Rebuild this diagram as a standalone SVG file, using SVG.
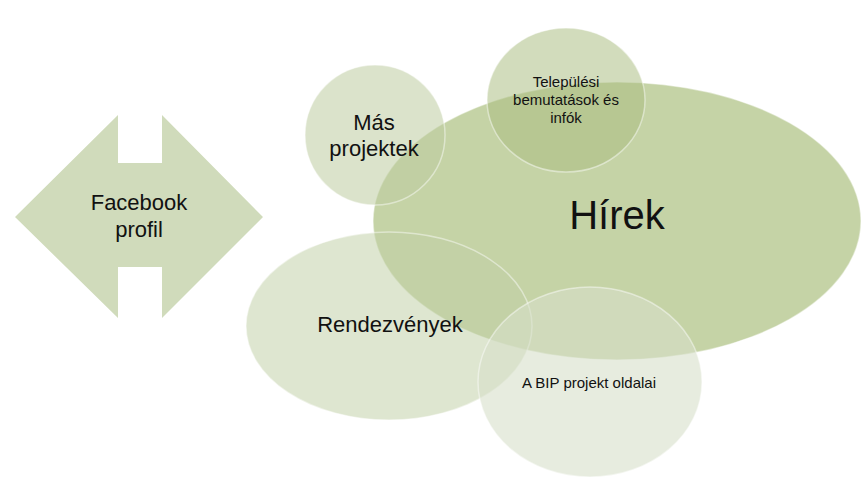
<svg xmlns="http://www.w3.org/2000/svg" width="865" height="486" viewBox="0 0 865 486">
<style>
.bub{stroke:#ffffff;stroke-opacity:0.45;stroke-width:1.5}
.t{font-family:"Liberation Sans",Arial,sans-serif;fill:#111;text-anchor:middle}
.big{font-size:22px}
.sm{font-size:15px}
</style>
<rect width="865" height="486" fill="#ffffff"/>
<g id="facebook">
<path d="M15,217 L118,115 L118,163 L162,163 L162,115 L263,217 L162,318 L162,267 L118,267 L118,318 Z" fill="#D0DBBB"/>
<text class="t big" x="139" y="210">Facebook</text>
<text class="t big" x="139" y="237">profil</text>
</g>
<g id="hirek">
<ellipse class="bub" cx="617" cy="221" rx="244" ry="139" fill="#C5D3A6"/>
<text class="t" x="617" y="229" font-size="40">Hírek</text>
</g>
<g id="mas">
<circle class="bub" cx="375" cy="135" r="70" fill="#BDCCA0" fill-opacity="0.55"/>
<text class="t big" x="374" y="130">Más</text>
<text class="t big" x="374" y="156">projektek</text>
</g>
<g id="rendezvenyek">
<ellipse class="bub" cx="389" cy="326" rx="143" ry="94" fill="#C1D0A6" fill-opacity="0.53"/>
<text class="t big" x="390" y="332">Rendezvények</text>
</g>
<g id="telepulesi">
<ellipse class="bub" cx="566" cy="100" rx="79" ry="72" fill="#AABD80" fill-opacity="0.53"/>
<text class="t sm" x="566" y="87">Települési</text>
<text class="t sm" x="566" y="105">bemutatások és</text>
<text class="t sm" x="566" y="123">infók</text>
</g>
<g id="bip">
<ellipse class="bub" cx="590" cy="382" rx="112" ry="95" fill="#D7DFCA" fill-opacity="0.6"/>
<text class="t sm" x="589" y="388">A BIP projekt oldalai</text>
</g>
<g id="connectors"></g>
</svg>
